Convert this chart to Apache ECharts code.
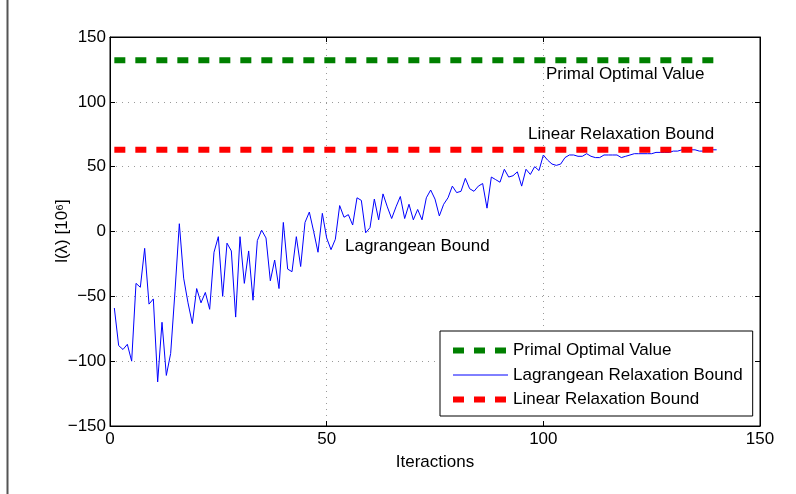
<!DOCTYPE html>
<html>
<head>
<meta charset="utf-8">
<script src="https://cdn.jsdelivr.net/npm/echarts@6/dist/echarts.min.js"></script>
<style>
html,body{margin:0;padding:0;background:#fff;}
#chart{width:796px;height:494px;}
</style>
</head>
<body>
<div id="chart"></div>
<script>
// ---- data ----
var lagrangean = [
  -59, -88, -91, -87, -100, -40, -43, -13, -56, -52,
  -116, -70, -111, -94, -46, 6, -36, -55, -71, -44,
  -55, -47, -60, -16, -4, -50, -9, -15, -66, -4,
  -40, -15, -53, -7, 1, -5, -38, -22, -44, 7,
  -29, -31, -4, -27, 7, 15, 0, -16, 14, -5,
  -14, -6, 20, 11, 13, 5, 26, 24, -1, 3,
  25, 9, 29, 19, 10, 19, 27, 10, 21, 9,
  17, 9, 26, 32, 25, 12, 21, 26, 35, 30,
  31, 41, 33, 31, 35, 37, 18, 42, 40, 38,
  48, 42, 43, 46, 35, 48, 44, 50, 47, 59,
  55, 52, 51, 52, 57, 59, 59, 58, 58, 60,
  58, 57, 57, 59, 59, 59, 59, 57, 58, 59,
  60, 60, 60, 60, 60, 61, 61, 61, 61, 62,
  62, 63, 63, 63, 63, 62, 62, 63, 63, 63
];
var primalOptimal = 132;
var linearBound = 63;
var firstIter = 1;
var lastIter = 140;
var xTicks = [0, 50, 100, 150];
var yTicks = [-150, -100, -50, 0, 50, 100, 150];
var legendNames = ['Primal Optimal Value', 'Lagrangean Relaxation Bound', 'Linear Relaxation Bound'];

var lagData = lagrangean.map(function (v, i) { return [firstIter + i, v]; });
var primalData = [[firstIter, primalOptimal], [lastIter, primalOptimal]];
var linearData = [[firstIter, linearBound], [lastIter, linearBound]];

var FONT = 'Liberation Sans, Arial, Helvetica, sans-serif';
var FS = 17;
var GREEN = '#008000', BLUE = '#0000ff', RED = '#ff0000';
var chart = echarts.init(document.getElementById('chart'), null, {renderer: 'canvas'});

function fmt(v) { return String(v).replace('-', '\u2212'); }

var gridLine = {show: true, lineStyle: {color: '#9a9a9a', type: [1, 5], width: 1}};
var DASH = [11, 10];

var option = {
  backgroundColor: '#ffffff',
  animation: false,
  grid: {left: 110, right: 36, top: 37, bottom: 68, show: true, borderColor: '#000', borderWidth: 1, backgroundColor: 'transparent'},
  xAxis: [{
    type: 'value', min: xTicks[0], max: xTicks[xTicks.length - 1], interval: 50,
    axisLine: {show: true, onZero: false, lineStyle: {color: '#000', width: 1}},
    axisTick: {show: true, inside: true, length: 5, lineStyle: {color: '#000'}},
    axisLabel: {color: '#000', fontSize: FS, fontFamily: FONT, margin: 5, formatter: fmt},
    splitLine: gridLine,
    name: 'Iteractions', nameLocation: 'middle', nameGap: 28,
    nameTextStyle: {color: '#000', fontSize: FS, fontFamily: FONT}
  }, {
    type: 'value', position: 'top', min: xTicks[0], max: xTicks[xTicks.length - 1], interval: 50,
    axisLine: {show: true, onZero: false, lineStyle: {color: '#000'}},
    axisTick: {show: true, inside: true, length: 5, lineStyle: {color: '#000'}},
    axisLabel: {show: false}, splitLine: {show: false}
  }],
  yAxis: [{
    type: 'value', min: yTicks[0], max: yTicks[yTicks.length - 1], interval: 50,
    axisLine: {show: true, onZero: false, lineStyle: {color: '#000', width: 1}},
    axisTick: {show: true, inside: true, length: 5, lineStyle: {color: '#000'}},
    axisLabel: {color: '#000', fontSize: FS, fontFamily: FONT, margin: 4, formatter: fmt},
    splitLine: gridLine
  }, {
    type: 'value', position: 'right', min: yTicks[0], max: yTicks[yTicks.length - 1], interval: 50,
    axisLine: {show: true, onZero: false, lineStyle: {color: '#000'}},
    axisTick: {show: true, inside: true, length: 5, lineStyle: {color: '#000'}},
    axisLabel: {show: false}, splitLine: {show: false}
  }],
  legend: {
    orient: 'vertical', left: 440, top: 331,
    data: [
      {name: legendNames[0], lineStyle: {width: 6, type: DASH, color: GREEN}},
      {name: legendNames[1], lineStyle: {width: 1, color: BLUE}},
      {name: legendNames[2], lineStyle: {width: 6, type: DASH, color: RED}}
    ],
    itemWidth: 55, itemHeight: 8, itemGap: 7.5,
    itemStyle: {opacity: 0},
    padding: [11, 10, 8, 10],
    backgroundColor: '#fff', borderColor: '#000', borderWidth: 1, borderRadius: 0,
    textStyle: {color: '#000', fontSize: FS, fontFamily: FONT},
    selectedMode: false
  },
  series: [{
    name: legendNames[0], type: 'line', data: primalData, showSymbol: false, symbol: 'none',
    lineStyle: {color: GREEN, width: 6, type: DASH, cap: 'butt'}, itemStyle: {color: GREEN}, z: 3
  }, {
    name: legendNames[1], type: 'line', data: lagData, showSymbol: false, symbol: 'none',
    lineStyle: {color: BLUE, width: 1}, itemStyle: {color: BLUE}, z: 2
  }, {
    name: legendNames[2], type: 'line', data: linearData, showSymbol: false, symbol: 'none',
    lineStyle: {color: RED, width: 6, type: DASH, cap: 'butt'}, itemStyle: {color: RED}, z: 3
  }],
  graphic: [
    {type: 'line', shape: {x1: 7.5, y1: 0, x2: 7.5, y2: 494}, style: {stroke: '#555', lineWidth: 2}},
    {type: 'text', x: 546, y: 74, style: {text: 'Primal Optimal Value', fill: '#000', font: FS + 'px ' + FONT, textVerticalAlign: 'middle'}},
    {type: 'text', x: 528, y: 134, style: {text: 'Linear Relaxation Bound', fill: '#000', font: FS + 'px ' + FONT, textVerticalAlign: 'middle'}},
    {type: 'text', x: 345, y: 246, style: {text: 'Lagrangean Bound', fill: '#000', font: FS + 'px ' + FONT, textVerticalAlign: 'middle'}},
    {type: 'text', x: 62, y: 231, rotation: Math.PI / 2,
     style: {text: 'l(\u03bb) [10\u2076]', fill: '#000', font: FS + 'px ' + FONT, textAlign: 'center', textVerticalAlign: 'middle'}}
  ]
};
chart.setOption(option);
</script>
</body>
</html>
